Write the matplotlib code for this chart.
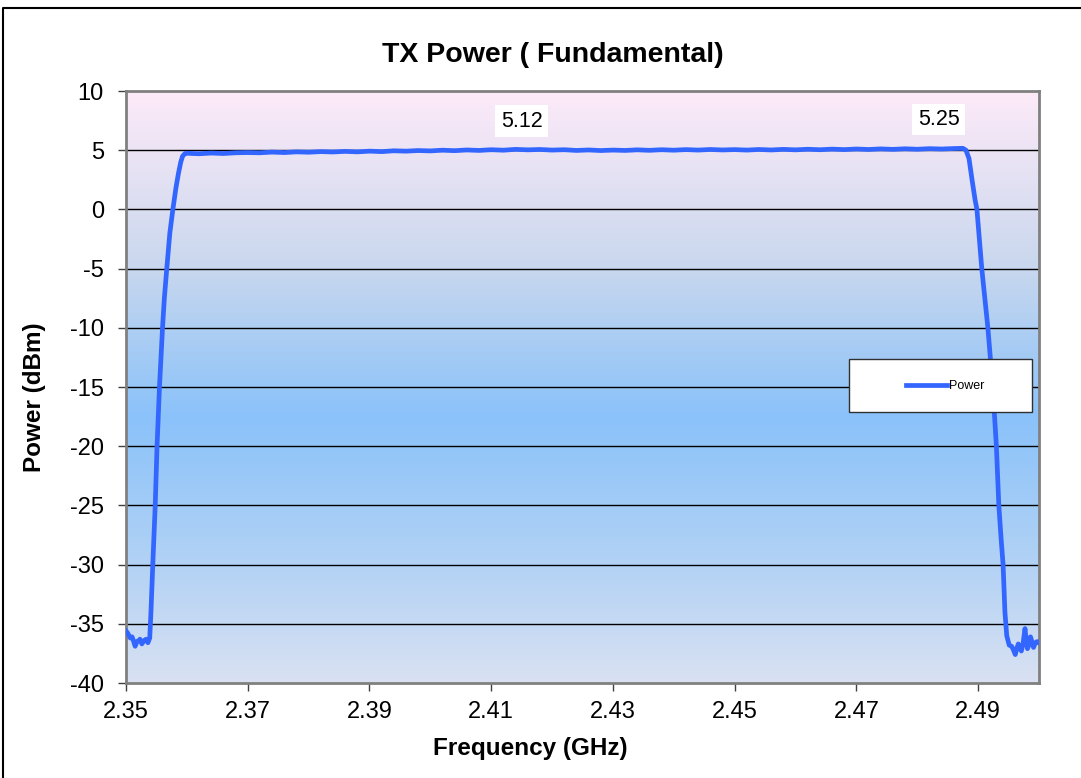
from matplotlib import pyplot as plt
from matplotlib.colors import LinearSegmentedColormap
from matplotlib.lines import Line2D
from matplotlib.patches import Rectangle
import numpy as np

plt.rcParams['font.family'] = ['Liberation Sans', 'DejaVu Sans']
plt.rcParams['axes.unicode_minus'] = False

# measured sweep (GHz, dBm)
freq = [2.3500, 2.3503, 2.3507, 2.3510, 2.3512, 2.3515, 2.3518, 2.3521, 2.3523, 2.3526,
        2.3530, 2.3533, 2.3536, 2.3539, 2.3541, 2.3544, 2.3548, 2.3551, 2.3555, 2.3560,
        2.3563, 2.3567, 2.3572, 2.3577, 2.3582, 2.3586, 2.3590, 2.3593, 2.3597,
        2.360, 2.362, 2.364, 2.366, 2.368, 2.370, 2.372, 2.374, 2.376, 2.378,
        2.380, 2.382, 2.384, 2.386, 2.388, 2.390, 2.392, 2.394, 2.396, 2.398,
        2.400, 2.402, 2.404, 2.406, 2.408, 2.410, 2.412, 2.414, 2.416, 2.418,
        2.420, 2.422, 2.424, 2.426, 2.428, 2.430, 2.432, 2.434, 2.436, 2.438,
        2.440, 2.442, 2.444, 2.446, 2.448, 2.450, 2.452, 2.454, 2.456, 2.458,
        2.460, 2.462, 2.464, 2.466, 2.468, 2.470, 2.472, 2.474, 2.476, 2.478,
        2.480, 2.482, 2.484, 2.486, 2.4875,
        2.4880, 2.4885, 2.4890, 2.4895, 2.4898, 2.4902, 2.4906, 2.4911, 2.4916, 2.4920,
        2.4923, 2.4927, 2.4930, 2.4934, 2.4938, 2.4941, 2.4944, 2.4947, 2.4951, 2.4955,
        2.4958, 2.4961, 2.4964, 2.4966, 2.4969, 2.4971, 2.4974, 2.4977, 2.4979, 2.4981,
        2.4984, 2.4986, 2.4989, 2.4991, 2.4994, 2.4997, 2.5000]
power = [-35.6, -35.8, -36.2, -36.1, -36.4, -36.9, -36.5, -36.4, -36.3, -36.7,
         -36.4, -36.3, -36.6, -36.2, -34.0, -30.0, -25.0, -20.0, -15.0, -10.0,
         -7.5, -5.0, -2.0, 0.0, 1.8, 3.0, 4.0, 4.5, 4.72,
         4.74, 4.70, 4.76, 4.72, 4.78, 4.80, 4.78, 4.84, 4.80, 4.86,
         4.83, 4.88, 4.85, 4.90, 4.86, 4.92, 4.88, 4.95, 4.92, 4.97,
         4.94, 5.00, 4.96, 5.02, 4.98, 5.04, 5.00, 5.07, 5.03, 5.06,
         5.01, 5.04, 4.98, 5.02, 4.97, 5.01, 4.98, 5.03, 4.99, 5.04,
         5.00, 5.05, 5.01, 5.06, 5.02, 5.05, 5.01, 5.06, 5.02, 5.07,
         5.03, 5.08, 5.04, 5.09, 5.05, 5.10, 5.06, 5.11, 5.07, 5.12,
         5.08, 5.13, 5.10, 5.14, 5.16,
         5.0, 4.3, 2.5, 0.8, 0.0, -2.5, -5.0, -7.5, -10.0, -12.5,
         -15.0, -17.5, -20.0, -25.0, -28.0, -30.0, -34.0, -36.0, -36.8, -36.9,
         -37.2, -37.6, -37.0, -36.7, -37.1, -37.3, -36.6, -35.4, -36.4, -37.1,
         -36.7, -36.1, -36.6, -37.0, -36.6, -36.5, -36.6]

label_freq = [2.415, 2.4835]
label_val = [5.12, 5.25]

xticks = [2.35, 2.37, 2.39, 2.41, 2.43, 2.45, 2.47, 2.49]
yticks = [10, 5, 0, -5, -10, -15, -20, -25, -30, -35, -40]

fig = plt.figure(figsize=(10.81, 7.78), dpi=100)
ax = fig.add_axes([126/1081, 1 - 683/778, (1039 - 126)/1081, (683 - 91)/778])

# background gradient of the plot area
bg = LinearSegmentedColormap.from_list('bg', [
    (0.0, (253/255, 234/255, 248/255)),
    (0.10, (236/255, 228/255, 245/255)),
    (0.30, (200/255, 215/255, 238/255)),
    (0.55, (138/255, 194/255, 250/255)),
    (0.80, (178/255, 210/255, 245/255)),
    (1.0, (217/255, 225/255, 242/255))])
ax.imshow(np.linspace(0, 1, 256).reshape(-1, 1), cmap=bg, aspect='auto',
          extent=[2.35, 2.50, -40, 10], zorder=0)

for y in yticks[1:-1]:
    ax.axhline(y, color='black', lw=1, zorder=1)

ax.plot(freq, power, color='#3366ff', lw=3.4, zorder=3, label='Power')

for f, v in zip(label_freq, label_val):
    ax.annotate(f'{v:.2f}', (f, v), xytext=(0, 20), textcoords='offset points',
                ha='center', va='center', fontsize=15.5, zorder=4,
                bbox=dict(boxstyle='square,pad=0.25', fc='white', ec='none'))

ax.set_xlim(2.35, 2.50)
ax.set_ylim(-40, 10)
ax.set_xticks(xticks)
ax.set_yticks(yticks)
ax.set_xticklabels([f'{t:.2f}' for t in xticks])
ax.tick_params(labelsize=17, length=6, width=1, color='#404040')
ax.tick_params(axis='y', pad=10)
ax.tick_params(axis='x', pad=7)
for s in ax.spines.values():
    s.set_color('#808080')
    s.set_linewidth(2)

# legend box
ax.add_patch(Rectangle((849/1081, 1 - 412/778), 183/1081, 53/778, transform=fig.transFigure,
                       fc='white', ec='#303030', lw=1, zorder=5))
leg = ax.legend(loc='center', bbox_to_anchor=(945/1081, 1 - 386/778), bbox_transform=fig.transFigure,
                frameon=False, fontsize=9, handlelength=3.3, handletextpad=0.1)
leg.set_zorder(6)

fig.text(553/1081, 1 - 55/778, 'TX Power ( Fundamental)', ha='center', va='center',
         fontsize=20.5, fontweight='bold')
fig.text(530/1081, 1 - 749/778, 'Frequency (GHz)', ha='center', va='center',
         fontsize=17.5, fontweight='bold')
fig.text(35/1081, 1 - 397/778, 'Power (dBm)', ha='center', va='center', rotation=90,
         fontsize=17.5, fontweight='bold')

# outer chart border (partly cropped)
fig.add_artist(Line2D([3/1081, 3/1081, 1], [0, 1 - 8/778, 1 - 8/778], transform=fig.transFigure,
                      color='black', lw=1.5))

fig.savefig('out.png', dpi=100)
